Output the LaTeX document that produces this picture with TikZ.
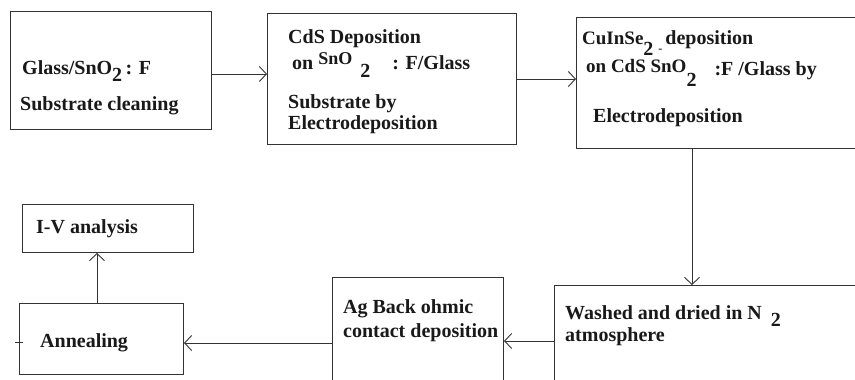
\documentclass[tikz,border=0pt]{standalone}
\usepackage{fontspec}
\setmainfont{Liberation Serif}
\usetikzlibrary{arrows.meta}
\newcommand{\lowtwo}[1][7pt]{\raisebox{-#1}{2}}
\tikzset{
  box/.style={draw=black!80, line width=1pt, rectangle, inner sep=0pt, anchor=north west},
  txt/.style={inner sep=0pt, anchor=base west, font=\fontsize{20}{24}\selectfont\bfseries, text=black!90},
  arr/.style={draw=black!80, line width=1pt, -{Straight Barb[length=7pt,width=15pt,line width=0.9pt]}},
  plain/.style={draw=black!80, line width=1pt}
}
\begin{document}
\begin{tikzpicture}[x=1pt,y=-1pt]
\useasboundingbox (0,0) rectangle (855,380);
\clip (0,0) rectangle (855,380);
\fill[white] (0,0) rectangle (855,380);
% boxes
\node[box, minimum width=201pt, minimum height=118pt] (b1) at (10,11) {};
\node[box, minimum width=249pt, minimum height=131pt] (b2) at (267,13) {};
\node[box, minimum width=304pt, minimum height=131pt] (b3) at (576,17) {};
\node[box, minimum width=326pt, minimum height=115pt] (b4) at (554,285) {};
\node[box, minimum width=171pt, minimum height=123pt] (b5) at (332,277) {};
\node[box, minimum width=164pt, minimum height=71pt] (b6) at (19,303) {};
\node[box, minimum width=171pt, minimum height=48pt] (b7) at (22,204) {};
% texts
\node[txt] (t1a) at (22,74) {Glass/SnO\lowtwo[8pt]\,: F};
\node[txt] (t1b) at (20,110) {Substrate cleaning};
\node[txt] (t2a) at (288,43) {CdS Deposition};
\node[txt] (t2b) at (292,69) {on {\fontsize{18}{20}\selectfont\raisebox{5pt}{SnO}}\hspace{8pt}\lowtwo[8pt]\hspace{22pt}: F/Glass};
\node[txt] (t2c) at (288,108) {Substrate by};
\node[txt] (t2d) at (288,129) {Electrodeposition};
\node[txt] (t3a) at (582,44) {{\fontsize{19}{22}\selectfont CuInSe}\lowtwo[12pt]\hspace{5pt}{\fontsize{12}{12}\selectfont\raisebox{-9pt}{-}}\hspace{3pt}deposition};
\node[txt] (t3b) at (586,72) {{\fontsize{19}{22}\selectfont on CdS SnO}\lowtwo[14pt]\hspace{18pt}\raisebox{-3pt}{:F /Glass by}};
\node[txt] (t3c) at (593,122) {Electrodeposition};
\node[txt] (t4a) at (565,319) {Washed and dried in N\hspace{9pt}\lowtwo[7pt]};
\node[txt] (t4b) at (565,341) {atmosphere};
\node[txt] (t5a) at (343,313) {Ag Back ohmic};
\node[txt] (t5b) at (343,337) {contact deposition};
\node[txt] (t6) at (40,347) {Annealing};
\node[txt] (t7) at (36,233) {I-V analysis};
% connector guides
\coordinate (r1) at (0,74);
\coordinate (r2) at (0,79);
\coordinate (v3) at (692,0);
\coordinate (r4) at (0,341);
\coordinate (r5) at (0,343);
\coordinate (v6) at (97,0);
\coordinate (k1) at (15,342);
\coordinate (k2) at (23,342);
% connectors
\draw[arr] (b1.east |- r1) -- (b2.west |- r1);
\draw[arr] (b2.east |- r2) -- (b3.west |- r2);
\draw[arr] (b3.south -| v3) -- (b4.north -| v3);
\draw[arr] (b4.west |- r4) -- (b5.east |- r4);
\draw[arr] (b5.west |- r5) -- (b6.east |- r5);
\draw[arr] (b6.north -| v6) -- (b7.south -| v6);
\draw[plain] (k1) -- (k2);
\end{tikzpicture}
\end{document}
